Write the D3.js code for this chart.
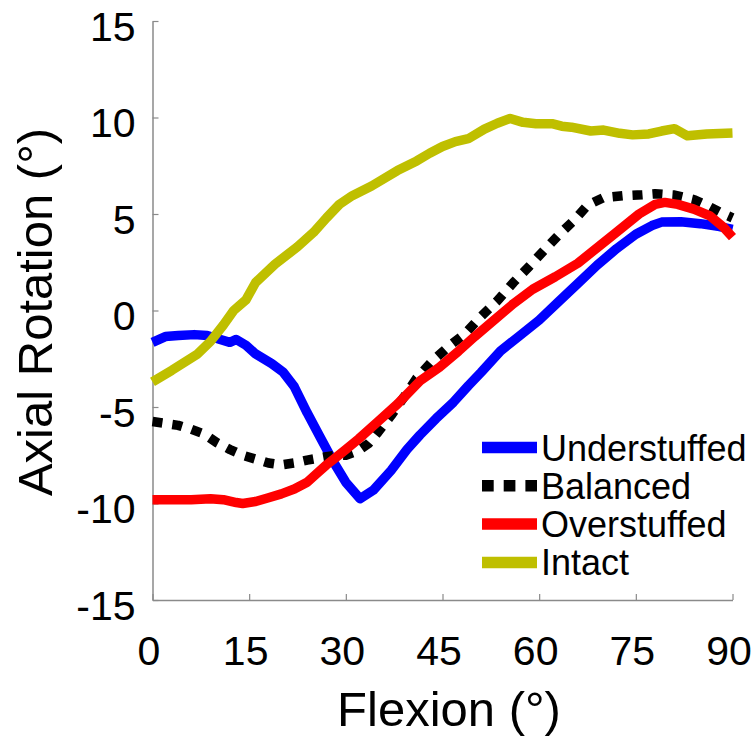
<!DOCTYPE html>
<html>
<head>
<meta charset="utf-8">
<script src="https://cdn.jsdelivr.net/npm/d3@7"></script>
<style>
  body { margin: 0; background: #fff; }
  svg { display: block; font-family: Arial, "Liberation Sans", sans-serif; }
</style>
</head>
<body>
<div id="wrapper"></div>
<script>
// data
const seriesNames = ["Understuffed", "Balanced", "Overstuffed", "Intact"]
const seriesColors = ["#0000ff", "#000000", "#ff0000", "#bfbf00"]

const understuffedFlexion = [0, 2, 4, 6.5, 8.5, 10, 12, 13, 14.5, 16, 18.5, 20.3, 22, 24, 26, 28, 30, 32.2, 34.3, 37, 39.5, 41.5, 44, 46.7, 49, 51, 54, 57, 60, 63, 66, 69, 72, 75, 77.5, 79, 82, 85, 88, 90]
const understuffedRotation = [-1.65, -1.35, -1.3, -1.25, -1.3, -1.45, -1.65, -1.5, -1.8, -2.25, -2.75, -3.2, -3.95, -5.3, -6.55, -7.8, -8.9, -9.75, -9.3, -8.3, -7.2, -6.45, -5.6, -4.75, -3.9, -3.2, -2.1, -1.3, -0.5, 0.45, 1.4, 2.35, 3.2, 3.95, 4.4, 4.58, 4.6, 4.5, 4.35, 4.2]

const balancedFlexion = [0, 2, 4, 6, 8, 10, 12, 14, 16, 18, 20, 22, 24, 26.5, 28.5, 30, 32, 33.5, 35, 37, 39, 41, 43.5, 46, 48.5, 51, 53.5, 56, 58.5, 61, 63, 65.5, 67.5, 70, 73, 76, 78, 81, 84, 86, 88, 90]
const balancedRotation = [-5.75, -5.85, -5.95, -6.15, -6.4, -6.85, -7.2, -7.5, -7.7, -7.9, -8.0, -7.9, -7.75, -7.6, -7.5, -7.5, -7.25, -6.9, -6.3, -5.45, -4.5, -3.5, -2.6, -1.85, -1.2, -0.3, 0.5, 1.45, 2.3, 3.2, 3.9, 4.7, 5.45, 5.85, 5.95, 6.0, 6.05, 5.98, 5.75, 5.45, 5.1, 4.8]

const overstuffedFlexion = [0, 3, 6, 9, 11, 13, 14, 16, 18, 20, 22, 24, 25.5, 27, 28.5, 30, 32, 35, 38, 41.5, 44.5, 47.5, 50, 53, 56, 59, 62.5, 66, 69, 72, 75.5, 78, 79.5, 81.5, 84, 86.5, 88.5, 90]
const overstuffedRotation = [-9.8, -9.8, -9.8, -9.75, -9.8, -9.95, -10.0, -9.9, -9.7, -9.5, -9.25, -8.9, -8.45, -8.0, -7.6, -7.2, -6.65, -5.75, -4.85, -3.65, -2.95, -2.1, -1.35, -0.5, 0.35, 1.1, 1.75, 2.45, 3.25, 4.05, 5.0, 5.5, 5.6, 5.5, 5.25, 4.9, 4.35, 3.8]

const intactFlexion = [0, 3, 7, 9, 11, 12.6, 14.5, 16, 19, 22.5, 25, 27, 29, 31, 34, 38, 41, 43, 45, 47, 49, 51.5, 53.5, 55.5, 57.5, 59.5, 62, 63.5, 65, 68, 70, 72.5, 74.5, 77, 79, 81, 83, 86, 90]
const intactRotation = [-3.7, -3.1, -2.25, -1.6, -0.75, 0.0, 0.55, 1.45, 2.4, 3.3, 4.05, 4.8, 5.5, 5.95, 6.45, 7.25, 7.75, 8.15, 8.5, 8.75, 8.9, 9.4, 9.7, 9.95, 9.75, 9.68, 9.68, 9.55, 9.5, 9.3, 9.35, 9.18, 9.1, 9.15, 9.3, 9.42, 9.05, 9.15, 9.2]

const xTicks = [0, 15, 30, 45, 60, 75, 90]
const yTicks = [-15, -10, -5, 0, 5, 10, 15]

function drawChart() {
  const flexions = [understuffedFlexion, balancedFlexion, overstuffedFlexion, intactFlexion]
  const rotations = [understuffedRotation, balancedRotation, overstuffedRotation, intactRotation]

  const series = seriesNames.map((name, i) => ({
    name: name,
    color: seriesColors[i],
    dashed: name === "Balanced",
    values: flexions[i].map((f, j) => ({ flexion: f, rotation: rotations[i][j] })),
  }))

  const xAccessor = (d) => d.flexion
  const yAccessor = (d) => d.rotation

  let dimensions = {
    width: 755,
    height: 746,
    margins: { top: 21, right: 22.5, bottom: 146, left: 152.5 },
  }
  dimensions.boundedWidth =
    dimensions.width - dimensions.margins.left - dimensions.margins.right
  dimensions.boundedHeight =
    dimensions.height - dimensions.margins.top - dimensions.margins.bottom

  const wrapper = d3
    .select("#wrapper")
    .append("svg")
    .attr("width", dimensions.width)
    .attr("height", dimensions.height)

  const bounds = wrapper
    .append("g")
    .attr("transform", `translate(${dimensions.margins.left}, ${dimensions.margins.top})`)

  const xScale = d3.scaleLinear().domain([0, 90]).range([0, dimensions.boundedWidth])
  const yScale = d3.scaleLinear().domain([-15, 15]).range([dimensions.boundedHeight, 0])

  // axes (plain hyphen for negatives, like the original)
  const plainFormat = (d) => String(d)

  const xAxis = bounds
    .append("g")
    .attr("transform", `translate(0, ${dimensions.boundedHeight})`)
    .call(d3.axisBottom(xScale).tickValues(xTicks).tickFormat(plainFormat)
      .tickSizeInner(-6).tickSizeOuter(0).tickPadding(0))
  const yAxis = bounds
    .append("g")
    .call(d3.axisLeft(yScale).tickValues(yTicks).tickFormat(plainFormat)
      .tickSizeInner(-6).tickSizeOuter(0).tickPadding(0))

  ;[xAxis, yAxis].forEach((axis) => {
    axis.select(".domain").attr("stroke", "#8a8a8a").attr("stroke-width", 1.5)
    axis.selectAll(".tick line").attr("stroke", "#8a8a8a").attr("stroke-width", 1.2)
    axis.selectAll(".tick text")
      .attr("fill", "#000")
      .attr("font-size", 41)
      .attr("font-family", "Arial, 'Liberation Sans', sans-serif")
  })
  xAxis.selectAll(".tick text").attr("y", 65).attr("dy", 0).attr("dx", -4)
  yAxis.selectAll(".tick text").attr("x", -17).attr("dy", 19)

  // lines
  const lineGenerator = d3
    .line()
    .x((d) => xScale(xAccessor(d)))
    .y((d) => yScale(yAccessor(d)))

  bounds
    .selectAll(".series")
    .data(series)
    .join("path")
    .attr("class", "series")
    .attr("d", (d) => lineGenerator(d.values))
    .attr("fill", "none")
    .attr("stroke", (d) => d.color)
    .attr("stroke-width", 9.5)
    .attr("stroke-linejoin", "round")
    .attr("stroke-dasharray", (d) => (d.dashed ? "10,10" : null))

  // legend
  const legend = wrapper.append("g").attr("transform", "translate(482, 447.5)")
  const items = legend
    .selectAll("g")
    .data(series)
    .join("g")
    .attr("transform", (d, i) => `translate(0, ${i * 38.3})`)
  items
    .append("line")
    .attr("x1", 0)
    .attr("x2", 55)
    .attr("stroke", (d) => d.color)
    .attr("stroke-width", 11.5)
    .attr("stroke-dasharray", (d) => (d.dashed ? "11.7,10" : null))
  items
    .append("text")
    .attr("x", 59)
    .attr("y", 13)
    .attr("font-size", 36)
    .attr("fill", "#000")
    .text((d) => d.name)

  // axis titles
  wrapper
    .append("text")
    .attr("x", 449)
    .attr("y", 726)
    .attr("text-anchor", "middle")
    .attr("font-size", 49)
    .text("Flexion (°)")

  wrapper
    .append("text")
    .attr("transform", "translate(52, 312) rotate(-90)")
    .attr("text-anchor", "middle")
    .attr("font-size", 49)
    .text("Axial Rotation (°)")
}

drawChart()
</script>
</body>
</html>
